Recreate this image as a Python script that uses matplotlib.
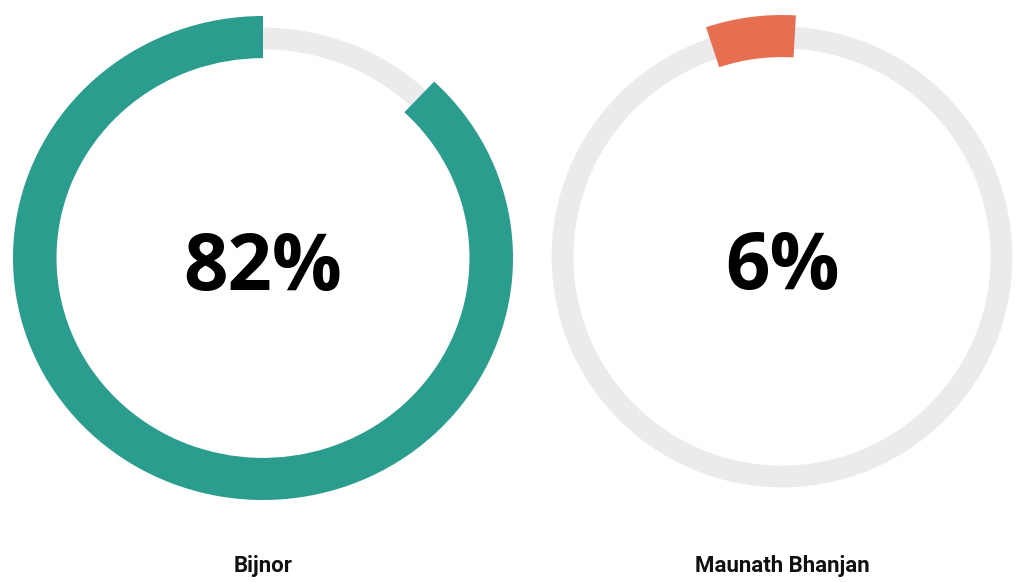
import matplotlib
matplotlib.use("Agg")
import matplotlib.pyplot as plt

# values shown on the chart
districts = ["Bijnor", "Maunath Bhanjan"]
percent_labels = ["82%", "6%"]
# share of the ring covered by the coloured arc
arc_share = [0.88, 0.06]
arc_colors = ["#2a9d8f", "#e76f51"]

W, H = 1020, 582
fig = plt.figure(figsize=(W / 100, H / 100), dpi=100)
fig.patch.set_facecolor("white")

# pixel geometry of each donut: centre x, centre y (from top), x radius, y radius, start angle
donuts = [
    (263, 258, 250, 242, 90),
    (782, 257, 242, 242, 86.7),
]

for i, (cx, cy, rx, ry, start) in enumerate(donuts):
    ax = fig.add_axes([(cx - rx) / W, (H - cy - ry) / H, 2 * rx / W, 2 * ry / H])
    # light grey track
    ax.pie([1], radius=0.952, colors=["#ebebeb"],
           wedgeprops=dict(width=0.09, linewidth=0), startangle=90)
    # coloured arc
    ax.pie([arc_share[i]], normalize=False, radius=1.0, colors=[arc_colors[i]],
           wedgeprops=dict(width=0.174, linewidth=0), startangle=start, counterclock=True)
    ax.set_aspect("auto")
    ax.set_xlim(-1, 1)
    ax.set_ylim(-1, 1)
    ax.set_axis_off()
    ax.text(0, -0.01, percent_labels[i], ha="center", va="center_baseline",
            fontsize=56, fontweight="bold", family="Open Sans", color="black")
    fig.text(cx / W, 1 - 566 / H, districts[i], ha="center", va="center",
             fontsize=16, fontweight="bold", family="Roboto", color="#111111")

fig.savefig("out.png", dpi=100, facecolor="white")
